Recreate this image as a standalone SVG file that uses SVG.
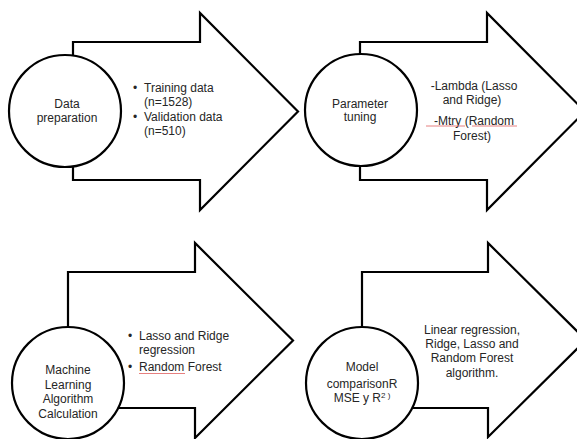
<svg xmlns="http://www.w3.org/2000/svg" width="577" height="439" viewBox="0 0 577 439">
<style>
.arrow{fill:#fff;stroke:#000;stroke-width:2.2;stroke-linejoin:miter}
.circ{fill:#fff;stroke:#000;stroke-width:2.2}
text{font-family:"Liberation Sans",Arial,sans-serif;font-size:12px;fill:#262626}
.c{text-anchor:middle}
.spell{stroke:#e06060;stroke-width:0.8;fill:none}
</style>
<rect width="577" height="439" fill="#fff"/>
<g id="connectors">
<path class="arrow" d="M73,42 H200 V13 L298,111.5 L200,210 V180 H73 Z"/>
<path class="arrow" d="M360,42 H487 V13 L585,111.5 L487,210 V180 H360 Z"/>
<path class="arrow" d="M68,272 H195 V243 L293,340.5 L195,438 V408 H68 Z"/>
<path class="arrow" d="M362,272 H488 V243 L586,340 L488,437 V408 H362 Z"/>
</g>
<g id="node-data-preparation">
<circle class="circ" cx="65" cy="111" r="56"/>
<text class="c" x="67" y="108">Data</text>
<text class="c" x="67" y="122">preparation</text>
<text x="133" y="92">•</text>
<text x="144" y="92">Training data</text>
<text x="144" y="105.5">(n=1528)</text>
<text x="133" y="121">•</text>
<text x="144" y="121">Validation data</text>
<text x="144" y="134.5">(n=510)</text>
</g>
<g id="node-parameter-tuning">
<circle class="circ" cx="361" cy="110" r="56"/>
<text class="c" x="360" y="108">Parameter</text>
<text class="c" x="360" y="121">tuning</text>
<text class="c" x="474" y="90">-Lambda (Lasso</text>
<text class="c" x="472" y="104">and Ridge)</text>
<text class="c" x="474" y="125">-Mtry (Random</text>
<text class="c" x="472" y="140">Forest)</text>
<path class="spell" d="M426,126 H465 M472,126 H517"/>
</g>
<g id="node-ml-calculation">
<circle class="circ" cx="68" cy="383" r="56"/>
<text class="c" x="68" y="374">Machine</text>
<text class="c" x="68" y="389">Learning</text>
<text class="c" x="68" y="403">Algorithm</text>
<text class="c" x="68" y="418">Calculation</text>
<text x="128" y="340">•</text>
<text x="139" y="340">Lasso and Ridge</text>
<text x="139" y="353.5">regression</text>
<text x="128" y="371">•</text>
<text x="139" y="371">Random Forest</text>
<path class="spell" d="M139,373.5 H185"/>
</g>
<g id="node-model-comparison">
<circle class="circ" cx="362" cy="383" r="56"/>
<text class="c" x="362" y="371">Model</text>
<text class="c" x="362" y="388">comparisonR</text>
<text class="c" x="362" y="402">MSE y R<tspan font-size="8" dy="-4">2 )</tspan></text>
<text class="c" x="472" y="334">Linear regression,</text>
<text class="c" x="472" y="348">Ridge, Lasso and</text>
<text class="c" x="472" y="362">Random Forest</text>
<text class="c" x="472" y="377">algorithm.</text>
</g>
</svg>
